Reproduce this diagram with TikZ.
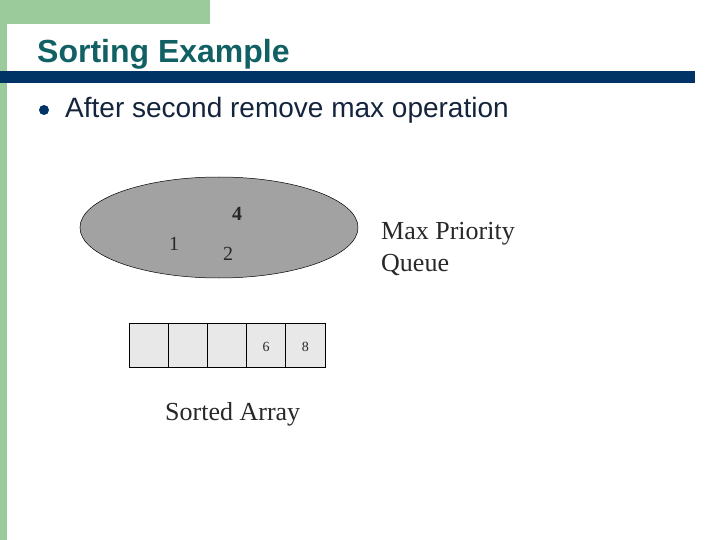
\documentclass[tikz,border=0pt]{standalone}
\usepackage{fontspec}
\setmainfont{Liberation Serif}
\setsansfont{Liberation Sans}
\definecolor{slgreen}{RGB}{155,203,155}
\definecolor{titlecol}{RGB}{16,96,100}
\definecolor{barblue}{RGB}{0,51,102}
\definecolor{bodytxt}{RGB}{20,36,60}
\definecolor{ellgray}{RGB}{162,162,162}
\definecolor{cellgray}{RGB}{232,232,232}
\definecolor{figtxt}{RGB}{40,40,40}
\begin{document}
\begin{tikzpicture}[x=1pt,y=-1pt,
  num/.style={font=\fontsize{20}{20}\selectfont, text=figtxt, inner sep=0pt},
  lbl/.style={font=\fontsize{26}{30}\selectfont, text=figtxt, inner sep=0pt, anchor=base west},
  cell/.style={draw=black, line width=0.9pt, fill=cellgray, minimum width=39.2pt, minimum height=44pt, inner sep=0pt, outer sep=0pt},
  celltxt/.style={font=\fontsize{14}{14}\selectfont, text=figtxt, inner sep=0pt}]
\useasboundingbox (0,0) rectangle (720,540);
\fill[white] (0,0) rectangle (720,540);
% green frame
\fill[slgreen] (0,0) rectangle (210,24);
\fill[slgreen] (0,0) rectangle (7,540);
\fill[white] (7,540) -- (7,44) arc[start angle=180, end angle=90, radius=20] -- (210,24) -- (210,540) -- cycle;
% title
\node[anchor=base west, inner sep=0pt, text=titlecol, font=\sffamily\bfseries\fontsize{32}{36}\selectfont] (title) at (37,63) {Sorting Example};
\fill[barblue] (0,71) rectangle (695,83);
% bullet
\fill[barblue] (44,110) circle[radius=5];
\node[anchor=base west, inner sep=0pt, text=bodytxt, font=\sffamily\fontsize{28}{32}\selectfont] (bul) at (65,118) {After second remove max operation};
% ellipse
\draw[fill=ellgray, draw=black, line width=0.5pt] (219,227.5) ellipse[x radius=139, y radius=50.5];
\node[num, font=\bfseries\fontsize{20}{20}\selectfont] (n4) at (237,214) {4};
\node[num] (n1) at (174,244) {1};
\node[num] (n2) at (228,254) {2};
\node[lbl] (mpq) at (381,240) {Max Priority};
\node[lbl] (mpq2) at (381,271) {Queue};
% array
\node[cell, anchor=north west] (c1) at (129,323) {};
\node[cell, anchor=west] (c2) at (c1.east) {};
\node[cell, anchor=west] (c3) at (c2.east) {};
\node[cell, anchor=west] (c4) at (c3.east) {};
\node[cell, anchor=west] (c5) at (c4.east) {};
\node[celltxt] (t6) at ([yshift=-2pt]c4.center) {6};
\node[celltxt] (t8) at ([yshift=-2pt]c5.center) {8};
\node[lbl] (sa) at (165,420) {Sorted Array};
\end{tikzpicture}
\end{document}
